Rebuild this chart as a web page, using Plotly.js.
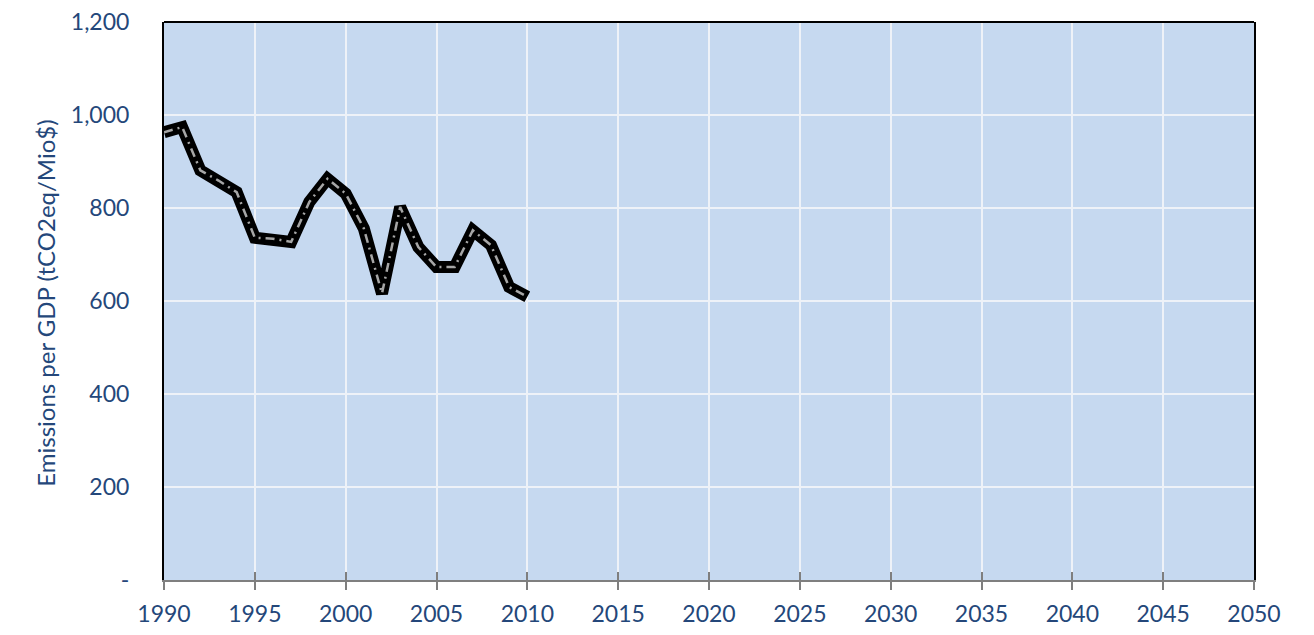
<!DOCTYPE html>
<html>
<head>
<meta charset="utf-8">
<script src="https://cdn.plot.ly/plotly-3.0.1.min.js"></script>
<style>html,body{margin:0;padding:0;background:#fff;}#chart{width:1314px;height:635px;}</style>
</head>
<body>
<div id="chart"></div>
<script>
const years = [1990,1991,1992,1993,1994,1995,1996,1997,1998,1999,2000,2001,2002,2003,2004,2005,2006,2007,2008,2009,2010];
const emissionsPerGDP = [963,974,881,859,834,736,734,727,813,863,831,756,616,802,716,673,673,752,720,630,609];
const yTickVals = [0,200,400,600,800,1000,1200];
const yTickText = ['-','200','400','600','800','1,000','1,200'];
const xTickVals = [1990,1995,2000,2005,2010,2015,2020,2025,2030,2035,2040,2045,2050];
const yTitle = 'Emissions per GDP (tCO2eq/Mio$)';

const textColor = '#24477a';
const fontFam = 'Lato, "Open Sans", sans-serif';

const traces = [
  {x: years, y: emissionsPerGDP, type: 'scatter', mode: 'lines',
   line: {color: '#000000', width: 12, shape: 'linear'}, hoverinfo: 'skip', showlegend: false},
  {x: years, y: emissionsPerGDP, type: 'scatter', mode: 'lines',
   line: {color: '#a6a6a6', width: 2.5, dash: '9px,5px,2px,5px'}, showlegend: false},
  {x: [1990, 2050], y: [null, null], type: 'scatter', mode: 'lines', xaxis: 'x2', showlegend: false, hoverinfo: 'skip'}
];

const layout = {
  width: 1314, height: 635,
  margin: {l: 164, r: 60, t: 22, b: 55},
  paper_bgcolor: '#ffffff',
  plot_bgcolor: '#c6d9f0',
  showlegend: false,
  xaxis: {
    range: [1990, 2050], tickvals: xTickVals, ticktext: xTickVals.map(String),
    showgrid: true, gridcolor: '#eef2f8', gridwidth: 2,
    zeroline: false, showline: true, linecolor: '#7f7f7f', linewidth: 2,
    ticks: 'outside', ticklen: 8, tickwidth: 2, tickcolor: '#7f7f7f',
    ticklabelstandoff: 4,
    tickfont: {family: fontFam, size: 23, color: textColor}
  },
  xaxis2: {
    range: [1990, 2050], overlaying: 'x', anchor: 'y', side: 'bottom',
    tickvals: xTickVals, showticklabels: false, showgrid: false, zeroline: false,
    showline: false, ticks: 'inside', ticklen: 8, tickwidth: 2, tickcolor: '#7f7f7f'
  },
  yaxis: {
    range: [0, 1200], tickvals: yTickVals, ticktext: yTickText,
    showgrid: true, gridcolor: '#eef2f8', gridwidth: 2,
    zeroline: false, showline: true, linecolor: '#000000', linewidth: 2, mirror: true,
    ticks: '', ticklabelstandoff: 28,
    tickfont: {family: fontFam, size: 23, color: textColor}
  },
  shapes: [
    {type: 'line', xref: 'paper', yref: 'paper', x0: 0, x1: 1, y0: 1, y1: 1,
     line: {color: '#000000', width: 2}}
  ],
  annotations: [
    {text: yTitle, xref: 'paper', yref: 'paper', x: (46 - 164) / 1090, y: 0.495,
     xanchor: 'center', yanchor: 'middle', textangle: -90, showarrow: false,
     font: {family: fontFam, size: 24, color: textColor}}
  ]
};

Plotly.newPlot('chart', traces, layout, {displayModeBar: false, staticPlot: true});
</script>
</body>
</html>
